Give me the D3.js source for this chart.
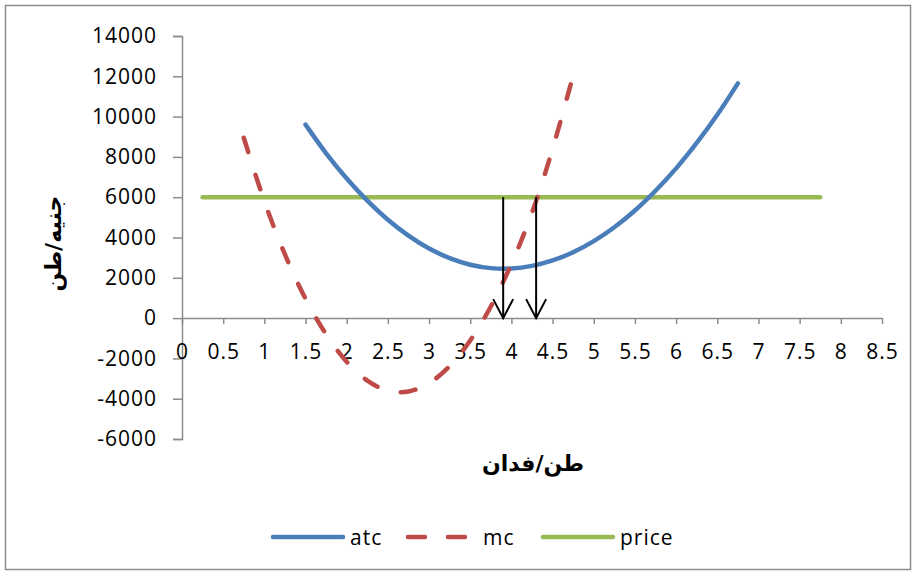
<!DOCTYPE html>
<html>
<head>
<meta charset="utf-8">
<script src="https://cdn.jsdelivr.net/npm/d3@7"></script>
<style>
  body { margin: 0; background: #fff; }
  text { font-family: "Open Sans", sans-serif; }
</style>
</head>
<body>
<svg id="chart"></svg>
<script>
const W = 916;
const H = 573;

// Data
const atcX = [1.5, 1.75, 2, 2.25, 2.5, 2.75, 3, 3.25, 3.5, 3.75, 4, 4.25, 4.5, 4.75, 5, 5.25, 5.5, 5.75, 6, 6.25, 6.5, 6.75];
const atcY = [9600, 8180, 6930, 5830, 4880, 4090, 3450, 2975, 2650, 2480, 2460, 2590, 2860, 3270, 3820, 4510, 5340, 6320, 7430, 8690, 10090, 11650];

const mcX = [0.75, 1, 1.25, 1.5, 1.75, 2, 2.25, 2.5, 2.75, 3, 3.25, 3.5, 3.75, 4, 4.25, 4.5, 4.75];
const mcY = [8950, 5800, 3160, 960, -805, -2170, -3100, -3600, -3640, -3230, -2380, -1110, 575, 2690, 5230, 8400, 12050];

const priceX = [0.25, 7.75];
const priceY = [6000, 6000];

// quantities marked with arrows (price down to zero)
const arrowX = [3.9, 4.3];
const arrowTop = 6000;
const arrowBottom = 0;

const xTicks = d3.range(0, 8.51, 0.5);
const yTicks = d3.range(-6000, 14001, 2000);

const seriesNames = ["atc", "mc", "price"];
const colors = { atc: "#4a7ebb", mc: "#be4b48", price: "#98b954" };

const svg = d3.select("#chart").attr("width", W).attr("height", H);

// outer frame
svg.append("rect")
  .attr("x", 5.5).attr("y", 5.5)
  .attr("width", 905).attr("height", 564)
  .attr("fill", "none")
  .attr("stroke", "#8c8c8c")
  .attr("stroke-width", 1.5);

const x = d3.scaleLinear().domain([0, 8.5]).range([182, 882]);
const y = d3.scaleLinear().domain([-6000, 14000]).range([439, 36]);

const axisColor = "#8c8c8c";
const numFmt = d => String(d); // plain hyphen minus like the original

// y axis
const yAxis = svg.append("g")
  .attr("transform", `translate(${x(0)},0)`)
  .call(d3.axisLeft(y).tickValues(yTicks).tickSize(9).tickPadding(16).tickFormat(numFmt));
yAxis.select(".domain").attr("stroke", axisColor).attr("stroke-width", 1.5);
yAxis.selectAll(".tick line").attr("stroke", axisColor).attr("stroke-width", 1.5);
yAxis.selectAll(".tick text")
  .attr("fill", "#000")
  .style("font-size", "21px")
  .style("font-family", "'Open Sans', sans-serif")
  .style("letter-spacing", "1px");

// x axis at value 0
const xAxis = svg.append("g")
  .attr("transform", `translate(0,${y(0)})`)
  .call(d3.axisBottom(x).tickValues(xTicks).tickSizeInner(6).tickSizeOuter(0).tickPadding(20).tickFormat(numFmt));
xAxis.select(".domain").attr("stroke", axisColor).attr("stroke-width", 1.5);
xAxis.selectAll(".tick line").attr("stroke", axisColor).attr("stroke-width", 1.5);
xAxis.selectAll(".tick text")
  .attr("fill", "#000")
  .style("font-size", "21px")
  .style("font-family", "'Open Sans', sans-serif")
  .style("letter-spacing", "1px");

const line = d3.line().x(d => x(d[0])).y(d => y(d[1])).curve(d3.curveCatmullRom.alpha(0.5));

// price
svg.append("path")
  .datum(d3.zip(priceX, priceY))
  .attr("d", line)
  .attr("fill", "none")
  .attr("stroke", colors.price)
  .attr("stroke-width", 4.5)
  .attr("stroke-linecap", "round");

// atc
svg.append("path")
  .datum(d3.zip(atcX, atcY))
  .attr("d", line)
  .attr("fill", "none")
  .attr("stroke", colors.atc)
  .attr("stroke-width", 4.5)
  .attr("stroke-linecap", "round");

// mc
svg.append("path")
  .datum(d3.zip(mcX, mcY))
  .attr("d", line)
  .attr("fill", "none")
  .attr("stroke", colors.mc)
  .attr("stroke-width", 4.5)
  .attr("stroke-linecap", "round")
  .attr("stroke-dasharray", "15,24");

// arrows
const arrows = svg.append("g");
arrowX.forEach(q => {
  const ax = x(q), y0 = y(arrowTop), y1 = y(arrowBottom);
  arrows.append("line")
    .attr("x1", ax).attr("x2", ax)
    .attr("y1", y0).attr("y2", y1)
    .attr("stroke", "#000").attr("stroke-width", 2);
  arrows.append("path")
    .attr("d", `M${ax - 10},${y1 - 19}L${ax},${y1}L${ax + 10},${y1 - 19}`)
    .attr("fill", "none")
    .attr("stroke", "#000").attr("stroke-width", 2);
});

// axis titles (Arabic)
svg.append("text")
  .attr("transform", `translate(61,${y(3700)}) rotate(-90)`)
  .attr("text-anchor", "middle")
  .style("font-family", "'DejaVu Sans', sans-serif")
  .style("font-weight", "bold")
  .style("font-size", "22px")
  .text("جنيه/طن");

svg.append("text")
  .attr("x", 533)
  .attr("y", 471)
  .attr("text-anchor", "middle")
  .style("font-family", "'DejaVu Sans', sans-serif")
  .style("font-weight", "bold")
  .style("font-size", "22px")
  .text("طن/فدان");

// legend
const legendPos = { atc: 273, mc: 408, price: 543 };
const legend = svg.append("g");
seriesNames.forEach(name => {
  const lx = legendPos[name];
  const ly = 537;
  if (name === "mc") {
    legend.append("line")
      .attr("x1", lx).attr("x2", lx + 62)
      .attr("y1", ly).attr("y2", ly)
      .attr("stroke", colors[name]).attr("stroke-width", 4.5)
      .attr("stroke-linecap", "round")
      .attr("stroke-dasharray", "17,23");
  } else {
    legend.append("line")
      .attr("x1", lx).attr("x2", lx + 70)
      .attr("y1", ly).attr("y2", ly)
      .attr("stroke", colors[name]).attr("stroke-width", 4.5)
      .attr("stroke-linecap", "round");
  }
  legend.append("text")
    .attr("x", name === "mc" ? lx + 75 : lx + 77)
    .attr("y", ly + 8)
    .style("font-size", "21px")
    .style("letter-spacing", "1px")
    .text(name);
});
</script>
</body>
</html>
